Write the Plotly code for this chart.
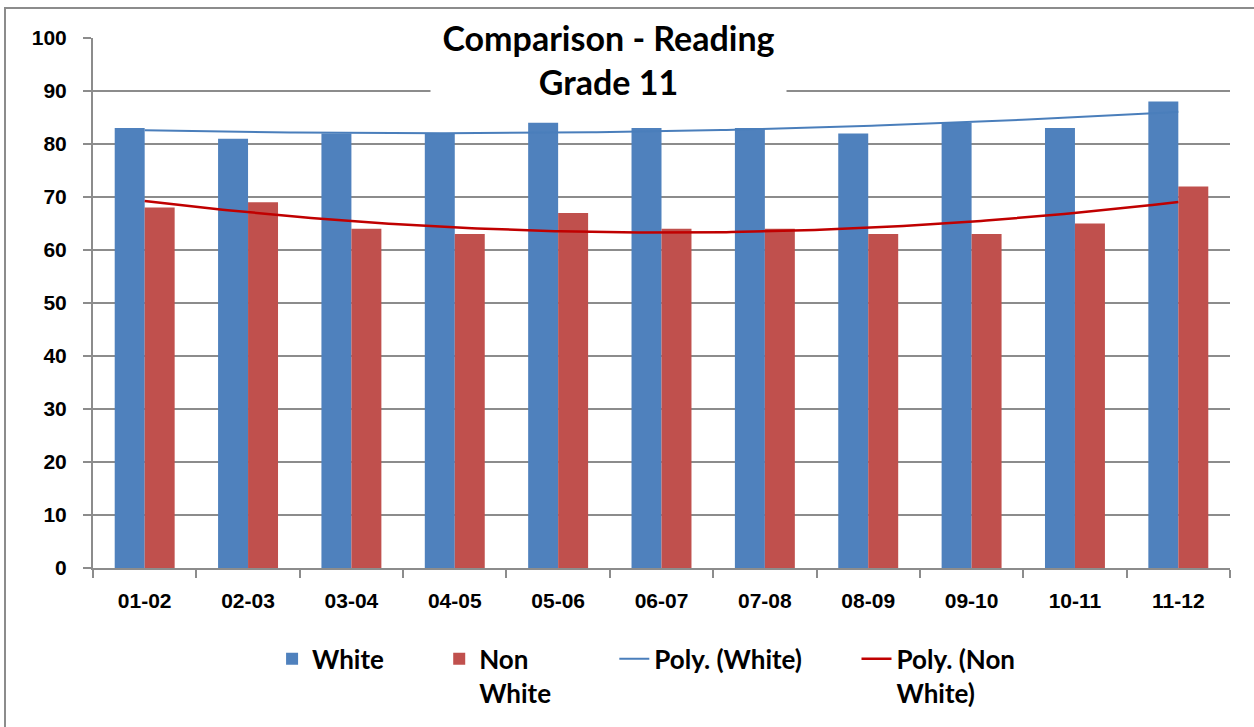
import numpy as np
import plotly.graph_objects as go

# School years and reading scores by group
years = ["01-02", "02-03", "03-04", "04-05", "05-06", "06-07",
         "07-08", "08-09", "09-10", "10-11", "11-12"]
white = [83, 81, 82, 82, 84, 83, 83, 82, 84, 83, 88]
non_white = [68, 69, 64, 63, 67, 64, 64, 63, 63, 65, 72]
y_ticks = list(range(0, 101, 10))

idx = np.arange(len(years))


def poly_trend(values, order=2, n=200):
    """Second-order polynomial trendline over the category positions."""
    coef = np.polyfit(idx, values, order)
    xs = np.linspace(idx[0], idx[-1], n)
    return xs, np.polyval(coef, xs)


BLUE = "#4F81BD"
RED = "#C0504D"
TREND_BLUE = "#4A7EBB"
TREND_RED = "#C00000"
GRID = "#8C8C8C"

fig = go.Figure()
fig.add_trace(go.Bar(x=idx, y=white, name="White", marker_color=BLUE,
                     marker_line_width=0, legend="legend"))
fig.add_trace(go.Bar(x=idx, y=non_white, name="Non<br>White", marker_color=RED,
                     marker_line_width=0, legend="legend2"))

wx, wy = poly_trend(white)
nx, ny = poly_trend(non_white)
fig.add_trace(go.Scatter(x=wx, y=wy, mode="lines", name="Poly. (White)",
                         line=dict(color=TREND_BLUE, width=2), legend="legend3"))
fig.add_trace(go.Scatter(x=nx, y=ny, mode="lines", name="Poly. (Non<br>White)",
                         line=dict(color=TREND_RED, width=2.5), legend="legend4"))

tick_font = dict(family="Liberation Sans, Arial, sans-serif", size=21,
                 color="black", weight="bold")
legend_font = dict(family="Lato, sans-serif", size=26, color="black",
                   weight="bold")


def legend_at(x):
    return dict(orientation="h", x=x, y=-0.125, xanchor="left", yanchor="top",
                font=legend_font, valign="top", bgcolor="rgba(0,0,0,0)")


fig.update_layout(
    width=1254, height=727,
    margin=dict(l=93, r=24, t=38, b=158),
    paper_bgcolor="white", plot_bgcolor="white",
    barmode="group", bargap=0.42, bargroupgap=0,
    showlegend=True,
    legend=legend_at(0.1575),
    legend2=legend_at(0.3045),
    legend3=legend_at(0.4585),
    legend4=legend_at(0.6715),
    xaxis=dict(
        range=[-0.5, len(years) - 0.5],
        tickmode="array", tickvals=idx, ticktext=years,
        ticks="", showgrid=False, zeroline=False,
        showline=True, linecolor=GRID, linewidth=2,
        tickfont=tick_font, ticklabelstandoff=13,
        minor=dict(tickmode="array",
                   tickvals=[i - 0.5 for i in range(len(years) + 1)],
                   ticks="outside", ticklen=8, tickcolor=GRID, tickwidth=2,
                   showgrid=False),
    ),
    yaxis=dict(
        range=[0, 100], tickmode="array", tickvals=y_ticks,
        ticks="outside", ticklen=8, tickcolor=GRID, tickwidth=2,
        showgrid=True, gridcolor=GRID, gridwidth=2,
        zeroline=False, showline=True, linecolor=GRID, linewidth=2,
        tickfont=tick_font, ticklabelstandoff=12,
    ),
)

title_font = dict(family="Lato, sans-serif", size=34, color="black", weight="bold")
fig.add_annotation(text="Comparison - Reading", xref="paper", yref="paper",
                   x=0.453, y=1.002, xanchor="center", yanchor="middle",
                   showarrow=False, font=title_font, bgcolor="white",
                   width=353, height=44)
fig.add_annotation(text="Grade 11", xref="paper", yref="paper",
                   x=0.453, y=0.918, xanchor="center", yanchor="middle",
                   showarrow=False, font=title_font, bgcolor="white",
                   width=353, height=44)

# Chart-area frame
fig.add_shape(type="rect", xref="paper", yref="paper",
              x0=-0.0774, x1=1.03, y0=-0.33, y1=1.0565,
              line=dict(color=GRID, width=2), layer="below")

fig.write_html("out.html")
